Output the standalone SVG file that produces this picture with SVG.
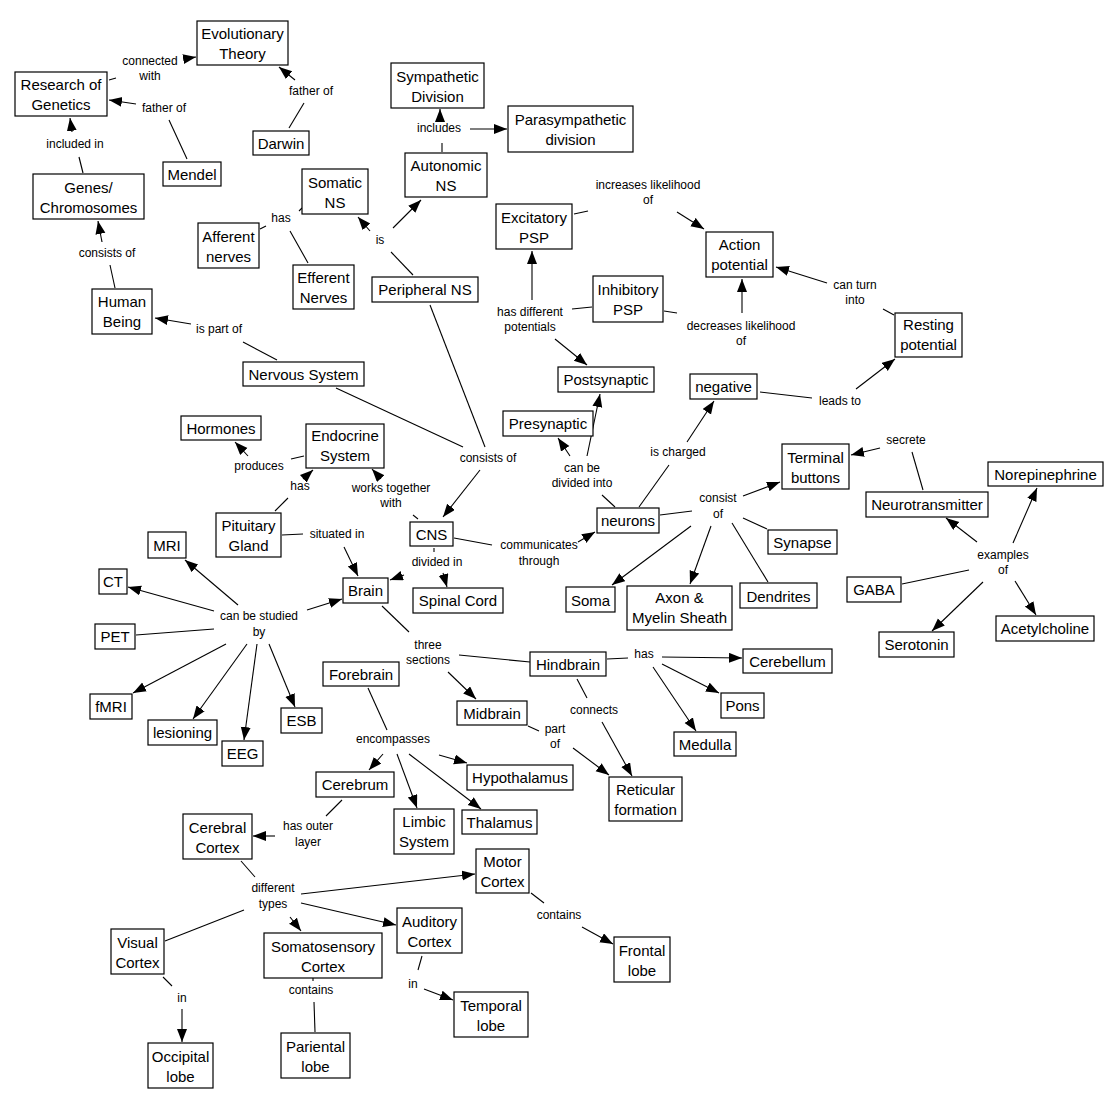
<svg xmlns="http://www.w3.org/2000/svg" width="1117" height="1108" viewBox="0 0 1117 1108">
<style>
.n rect{fill:#fff;stroke:#000;stroke-width:1.2}
.n text{font-family:"Liberation Sans",Arial,sans-serif;font-size:15px;fill:#000;text-anchor:middle;dominant-baseline:central}
#links line{stroke:#000;stroke-width:1.1}
#links line.a{marker-end:url(#ah)}
#labels text{font-family:"Liberation Sans",Arial,sans-serif;font-size:12px;fill:#000;text-anchor:middle;dominant-baseline:central}
</style>
<defs>
<marker id="ah" markerUnits="userSpaceOnUse" markerWidth="14" markerHeight="12" refX="13" refY="5" orient="auto"><path d="M0,0 L13,5 L0,10 z" fill="#000"/></marker>
</defs>
<rect width="1117" height="1108" fill="#fff"/>
<g id="links">
<line x1="109" y1="80" x2="116" y2="78"/>
<line class="a" x1="184" y1="59" x2="196" y2="57"/>
<line x1="187" y1="159" x2="169" y2="120"/>
<line class="a" x1="136" y1="104" x2="109" y2="100"/>
<line x1="289" y1="128" x2="304" y2="103"/>
<line class="a" x1="295" y1="80" x2="279" y2="67"/>
<line x1="83" y1="173" x2="79" y2="157"/>
<line class="a" x1="72" y1="132" x2="70" y2="118"/>
<line x1="115" y1="288" x2="110" y2="265"/>
<line class="a" x1="102" y1="242" x2="98" y2="221"/>
<line x1="260" y1="229" x2="266" y2="226"/>
<line x1="299" y1="211" x2="302" y2="208"/>
<line x1="308" y1="263" x2="290" y2="231"/>
<line x1="277" y1="360" x2="243" y2="342"/>
<line class="a" x1="191" y1="324" x2="155" y2="318"/>
<line x1="413" y1="275" x2="391" y2="252"/>
<line class="a" x1="370" y1="231" x2="358" y2="217"/>
<line class="a" x1="393" y1="228" x2="421" y2="200"/>
<line x1="442" y1="152" x2="442" y2="143"/>
<line class="a" x1="440" y1="119" x2="440" y2="109"/>
<line class="a" x1="470" y1="129" x2="507" y2="129"/>
<line x1="430" y1="305" x2="485" y2="447"/>
<line x1="336" y1="388" x2="463" y2="447"/>
<line class="a" x1="480" y1="470" x2="443" y2="517"/>
<line x1="574" y1="214" x2="588" y2="211"/>
<line class="a" x1="677" y1="212" x2="704" y2="229"/>
<line x1="592" y1="307" x2="572" y2="309"/>
<line class="a" x1="532" y1="300" x2="532" y2="251"/>
<line class="a" x1="555" y1="339" x2="587" y2="365"/>
<line x1="664" y1="311" x2="677" y2="313"/>
<line class="a" x1="742" y1="313" x2="742" y2="279"/>
<line class="a" x1="827" y1="283" x2="776" y2="267"/>
<line x1="894" y1="315" x2="883" y2="309"/>
<line x1="760" y1="392" x2="812" y2="398"/>
<line class="a" x1="856" y1="389" x2="895" y2="359"/>
<line x1="615" y1="507" x2="602" y2="495"/>
<line class="a" x1="570" y1="456" x2="558" y2="438"/>
<line class="a" x1="587" y1="456" x2="600" y2="394"/>
<line x1="639" y1="507" x2="669" y2="465"/>
<line class="a" x1="687" y1="442" x2="714" y2="401"/>
<line x1="418" y1="519" x2="413" y2="515"/>
<line class="a" x1="381" y1="479" x2="372" y2="469"/>
<line x1="275" y1="511" x2="288" y2="498"/>
<line class="a" x1="303" y1="479" x2="313" y2="470"/>
<line x1="304" y1="456" x2="291" y2="459"/>
<line class="a" x1="248" y1="456" x2="235" y2="442"/>
<line x1="282" y1="535" x2="303" y2="534"/>
<line class="a" x1="344" y1="547" x2="358" y2="576"/>
<line x1="454" y1="538" x2="492" y2="545"/>
<line class="a" x1="578" y1="542" x2="595" y2="532"/>
<line x1="434" y1="548" x2="434" y2="552"/>
<line class="a" x1="404" y1="575" x2="390" y2="580"/>
<line class="a" x1="443" y1="573" x2="447" y2="587"/>
<line x1="382" y1="606" x2="409" y2="632"/>
<line x1="459" y1="655" x2="530" y2="662"/>
<line class="a" x1="448" y1="672" x2="476" y2="699"/>
<line x1="660" y1="515" x2="692" y2="511"/>
<line class="a" x1="691" y1="526" x2="612" y2="585"/>
<line class="a" x1="711" y1="526" x2="690" y2="584"/>
<line x1="732" y1="523" x2="768" y2="582"/>
<line x1="743" y1="518" x2="767" y2="529"/>
<line class="a" x1="743" y1="496" x2="780" y2="482"/>
<line class="a" x1="880" y1="448" x2="851" y2="455"/>
<line x1="923" y1="490" x2="912" y2="452"/>
<line class="a" x1="977" y1="542" x2="946" y2="518"/>
<line class="a" x1="1013" y1="543" x2="1037" y2="488"/>
<line x1="902" y1="584" x2="969" y2="570"/>
<line class="a" x1="983" y1="582" x2="932" y2="631"/>
<line class="a" x1="1015" y1="581" x2="1036" y2="615"/>
<line class="a" x1="238" y1="605" x2="185" y2="560"/>
<line class="a" x1="214" y1="611" x2="128" y2="587"/>
<line x1="214" y1="629" x2="136" y2="635"/>
<line class="a" x1="226" y1="644" x2="133" y2="693"/>
<line class="a" x1="247" y1="644" x2="193" y2="719"/>
<line class="a" x1="257" y1="644" x2="244" y2="740"/>
<line class="a" x1="269" y1="644" x2="295" y2="707"/>
<line class="a" x1="307" y1="610" x2="342" y2="599"/>
<line x1="607" y1="659" x2="628" y2="658"/>
<line class="a" x1="662" y1="657" x2="742" y2="658"/>
<line class="a" x1="662" y1="664" x2="719" y2="693"/>
<line class="a" x1="653" y1="667" x2="696" y2="731"/>
<line x1="577" y1="679" x2="587" y2="698"/>
<line class="a" x1="602" y1="722" x2="632" y2="776"/>
<line x1="528" y1="726" x2="539" y2="731"/>
<line class="a" x1="573" y1="748" x2="609" y2="775"/>
<line x1="368" y1="688" x2="387" y2="730"/>
<line class="a" x1="383" y1="754" x2="369" y2="770"/>
<line class="a" x1="397" y1="754" x2="417" y2="808"/>
<line class="a" x1="409" y1="754" x2="481" y2="809"/>
<line class="a" x1="439" y1="755" x2="467" y2="763"/>
<line x1="342" y1="800" x2="326" y2="816"/>
<line class="a" x1="275" y1="836" x2="253" y2="836"/>
<line x1="241" y1="861" x2="255" y2="877"/>
<line x1="244" y1="910" x2="165" y2="941"/>
<line x1="163" y1="977" x2="172" y2="986"/>
<line class="a" x1="182" y1="1009" x2="182" y2="1042"/>
<line class="a" x1="290" y1="917" x2="301" y2="931"/>
<line class="a" x1="301" y1="894" x2="475" y2="874"/>
<line class="a" x1="301" y1="903" x2="396" y2="925"/>
<line x1="313" y1="978" x2="313" y2="981"/>
<line x1="314" y1="1002" x2="315" y2="1032"/>
<line x1="531" y1="893" x2="544" y2="903"/>
<line class="a" x1="582" y1="927" x2="613" y2="944"/>
<line x1="422" y1="956" x2="418" y2="970"/>
<line class="a" x1="424" y1="989" x2="453" y2="1000"/>
</g>
<g id="labels">
<text x="150" y="61">connected</text><text x="150" y="76">with</text>
<text x="164" y="108">father of</text>
<text x="311" y="91">father of</text>
<text x="75" y="144">included in</text>
<text x="107" y="253">consists of</text>
<text x="281" y="218">has</text>
<text x="219" y="329">is part of</text>
<text x="380" y="240">is</text>
<text x="439" y="128">includes</text>
<text x="648" y="185">increases likelihood</text><text x="648" y="200">of</text>
<text x="530" y="312">has different</text><text x="530" y="327">potentials</text>
<text x="741" y="326">decreases likelihood</text><text x="741" y="341">of</text>
<text x="855" y="285">can turn</text><text x="855" y="300">into</text>
<text x="840" y="401">leads to</text>
<text x="678" y="452">is charged</text>
<text x="582" y="468">can be</text><text x="582" y="483">divided into</text>
<text x="718" y="498">consist</text><text x="718" y="514">of</text>
<text x="906" y="440">secrete</text>
<text x="1003" y="555">examples</text><text x="1003" y="570">of</text>
<text x="539" y="545">communicates</text><text x="539" y="561">through</text>
<text x="437" y="562">divided in</text>
<text x="391" y="488">works together</text><text x="391" y="503">with</text>
<text x="300" y="486">has</text>
<text x="259" y="466">produces</text>
<text x="337" y="534">situated in</text>
<text x="488" y="458">consists of</text>
<text x="259" y="616">can be studied</text><text x="259" y="632">by</text>
<text x="428" y="645">three</text><text x="428" y="660">sections</text>
<text x="644" y="654">has</text>
<text x="594" y="710">connects</text>
<text x="555" y="729">part</text><text x="555" y="744">of</text>
<text x="393" y="739">encompasses</text>
<text x="308" y="826">has outer</text><text x="308" y="842">layer</text>
<text x="273" y="888">different</text><text x="273" y="904">types</text>
<text x="559" y="915">contains</text>
<text x="413" y="984">in</text>
<text x="311" y="990">contains</text>
<text x="182" y="998">in</text>
</g>
<g id="evo" class="n"><rect x="197" y="21" width="91" height="44"/><text x="242.5" y="33">Evolutionary</text><text x="242.5" y="53">Theory</text></g>
<g id="rog" class="n"><rect x="15" y="72" width="92" height="44"/><text x="61" y="84">Research of</text><text x="61" y="104">Genetics</text></g>
<g id="darwin" class="n"><rect x="253" y="131" width="56" height="24"/><text x="281" y="143">Darwin</text></g>
<g id="mendel" class="n"><rect x="163" y="162" width="58" height="24"/><text x="192" y="174">Mendel</text></g>
<g id="genes" class="n"><rect x="33" y="174" width="111" height="45"/><text x="88.5" y="187">Genes/</text><text x="88.5" y="207">Chromosomes</text></g>
<g id="human" class="n"><rect x="92" y="289" width="60" height="45"/><text x="122" y="301">Human</text><text x="122" y="321">Being</text></g>
<g id="somatic" class="n"><rect x="302" y="169" width="66" height="45"/><text x="335" y="182">Somatic</text><text x="335" y="202">NS</text></g>
<g id="afferent" class="n"><rect x="198" y="223" width="61" height="45"/><text x="228.5" y="236">Afferent</text><text x="228.5" y="256">nerves</text></g>
<g id="efferent" class="n"><rect x="293" y="265" width="61" height="44"/><text x="323.5" y="277">Efferent</text><text x="323.5" y="297">Nerves</text></g>
<g id="symp" class="n"><rect x="391" y="63" width="93" height="45"/><text x="437.5" y="76">Sympathetic</text><text x="437.5" y="96">Division</text></g>
<g id="para" class="n"><rect x="508" y="106" width="125" height="46"/><text x="570.5" y="119">Parasympathetic</text><text x="570.5" y="139">division</text></g>
<g id="auto" class="n"><rect x="405" y="153" width="82" height="44"/><text x="446" y="165">Autonomic</text><text x="446" y="185">NS</text></g>
<g id="periph" class="n"><rect x="372" y="277" width="106" height="25"/><text x="425" y="289">Peripheral NS</text></g>
<g id="excit" class="n"><rect x="496" y="204" width="76" height="45"/><text x="534" y="217">Excitatory</text><text x="534" y="237">PSP</text></g>
<g id="action" class="n"><rect x="706" y="232" width="67" height="45"/><text x="739.5" y="244">Action</text><text x="739.5" y="264">potential</text></g>
<g id="inhib" class="n"><rect x="593" y="276" width="70" height="46"/><text x="628" y="289">Inhibitory</text><text x="628" y="309">PSP</text></g>
<g id="resting" class="n"><rect x="895" y="313" width="67" height="44"/><text x="928.5" y="324">Resting</text><text x="928.5" y="344">potential</text></g>
<g id="post" class="n"><rect x="558" y="367" width="96" height="25"/><text x="606" y="379">Postsynaptic</text></g>
<g id="negative" class="n"><rect x="690" y="374" width="67" height="25"/><text x="723.5" y="386">negative</text></g>
<g id="nervous" class="n"><rect x="243" y="362" width="121" height="24"/><text x="303.5" y="374">Nervous System</text></g>
<g id="hormones" class="n"><rect x="181" y="416" width="80" height="24"/><text x="221" y="428">Hormones</text></g>
<g id="endocrine" class="n"><rect x="306" y="424" width="78" height="44"/><text x="345" y="435">Endocrine</text><text x="345" y="455">System</text></g>
<g id="pre" class="n"><rect x="503" y="411" width="90" height="25"/><text x="548" y="423">Presynaptic</text></g>
<g id="terminal" class="n"><rect x="782" y="444" width="67" height="45"/><text x="815.5" y="457">Terminal</text><text x="815.5" y="477">buttons</text></g>
<g id="neurotrans" class="n"><rect x="866" y="492" width="122" height="25"/><text x="927" y="504">Neurotransmitter</text></g>
<g id="norepi" class="n"><rect x="988" y="462" width="115" height="24"/><text x="1045.5" y="474">Norepinephrine</text></g>
<g id="pituitary" class="n"><rect x="216" y="513" width="65" height="44"/><text x="248.5" y="525">Pituitary</text><text x="248.5" y="545">Gland</text></g>
<g id="cns" class="n"><rect x="410" y="522" width="43" height="24"/><text x="431.5" y="534">CNS</text></g>
<g id="neurons" class="n"><rect x="597" y="508" width="62" height="25"/><text x="628" y="520">neurons</text></g>
<g id="synapse" class="n"><rect x="768" y="530" width="69" height="24"/><text x="802.5" y="542">Synapse</text></g>
<g id="mri" class="n"><rect x="148" y="532" width="38" height="26"/><text x="167" y="545">MRI</text></g>
<g id="ct" class="n"><rect x="99" y="569" width="28" height="25"/><text x="113" y="581">CT</text></g>
<g id="brain" class="n"><rect x="343" y="578" width="45" height="25"/><text x="365.5" y="590">Brain</text></g>
<g id="spinal" class="n"><rect x="413" y="588" width="90" height="25"/><text x="458" y="600">Spinal Cord</text></g>
<g id="soma" class="n"><rect x="566" y="587" width="49" height="25"/><text x="590.5" y="600">Soma</text></g>
<g id="axon" class="n"><rect x="627" y="586" width="105" height="44"/><text x="679.5" y="597">Axon &amp;</text><text x="679.5" y="617">Myelin Sheath</text></g>
<g id="dendrites" class="n"><rect x="740" y="583" width="77" height="25"/><text x="778.5" y="596">Dendrites</text></g>
<g id="gaba" class="n"><rect x="847" y="577" width="54" height="25"/><text x="874" y="589">GABA</text></g>
<g id="acetyl" class="n"><rect x="996" y="616" width="98" height="25"/><text x="1045" y="628">Acetylcholine</text></g>
<g id="serotonin" class="n"><rect x="879" y="632" width="75" height="25"/><text x="916.5" y="644">Serotonin</text></g>
<g id="pet" class="n"><rect x="95" y="624" width="40" height="25"/><text x="115" y="636">PET</text></g>
<g id="fmri" class="n"><rect x="90" y="694" width="42" height="25"/><text x="111" y="706">fMRI</text></g>
<g id="lesion" class="n"><rect x="148" y="720" width="69" height="25"/><text x="182.5" y="732">lesioning</text></g>
<g id="eeg" class="n"><rect x="222" y="741" width="41" height="25"/><text x="242.5" y="753">EEG</text></g>
<g id="esb" class="n"><rect x="281" y="708" width="41" height="25"/><text x="301.5" y="720">ESB</text></g>
<g id="forebrain" class="n"><rect x="323" y="662" width="76" height="24"/><text x="361" y="674">Forebrain</text></g>
<g id="hindbrain" class="n"><rect x="530" y="652" width="76" height="24"/><text x="568" y="664">Hindbrain</text></g>
<g id="cerebellum" class="n"><rect x="743" y="649" width="89" height="24"/><text x="787.5" y="661">Cerebellum</text></g>
<g id="pons" class="n"><rect x="721" y="693" width="43" height="25"/><text x="742.5" y="705">Pons</text></g>
<g id="midbrain" class="n"><rect x="457" y="701" width="70" height="24"/><text x="492" y="713">Midbrain</text></g>
<g id="medulla" class="n"><rect x="674" y="732" width="62" height="24"/><text x="705" y="744">Medulla</text></g>
<g id="hypo" class="n"><rect x="467" y="765" width="106" height="25"/><text x="520" y="777">Hypothalamus</text></g>
<g id="cerebrum" class="n"><rect x="316" y="772" width="78" height="25"/><text x="355" y="784">Cerebrum</text></g>
<g id="reticular" class="n"><rect x="609" y="777" width="73" height="44"/><text x="645.5" y="789">Reticular</text><text x="645.5" y="809">formation</text></g>
<g id="limbic" class="n"><rect x="394" y="809" width="60" height="45"/><text x="424" y="821">Limbic</text><text x="424" y="841">System</text></g>
<g id="thalamus" class="n"><rect x="462" y="810" width="75" height="24"/><text x="499.5" y="822">Thalamus</text></g>
<g id="cerebral" class="n"><rect x="183" y="814" width="69" height="45"/><text x="217.5" y="827">Cerebral</text><text x="217.5" y="847">Cortex</text></g>
<g id="motor" class="n"><rect x="476" y="849" width="53" height="44"/><text x="502.5" y="861">Motor</text><text x="502.5" y="881">Cortex</text></g>
<g id="auditory" class="n"><rect x="397" y="908" width="65" height="45"/><text x="429.5" y="921">Auditory</text><text x="429.5" y="941">Cortex</text></g>
<g id="visual" class="n"><rect x="111" y="929" width="53" height="45"/><text x="137.5" y="942">Visual</text><text x="137.5" y="962">Cortex</text></g>
<g id="somato" class="n"><rect x="264" y="933" width="118" height="45"/><text x="323" y="946">Somatosensory</text><text x="323" y="966">Cortex</text></g>
<g id="frontal" class="n"><rect x="614" y="937" width="56" height="45"/><text x="642" y="950">Frontal</text><text x="642" y="970">lobe</text></g>
<g id="temporal" class="n"><rect x="454" y="992" width="74" height="45"/><text x="491" y="1005">Temporal</text><text x="491" y="1025">lobe</text></g>
<g id="occipital" class="n"><rect x="148" y="1043" width="65" height="45"/><text x="180.5" y="1056">Occipital</text><text x="180.5" y="1076">lobe</text></g>
<g id="pariental" class="n"><rect x="281" y="1033" width="69" height="45"/><text x="315.5" y="1046">Pariental</text><text x="315.5" y="1066">lobe</text></g>
</svg>
